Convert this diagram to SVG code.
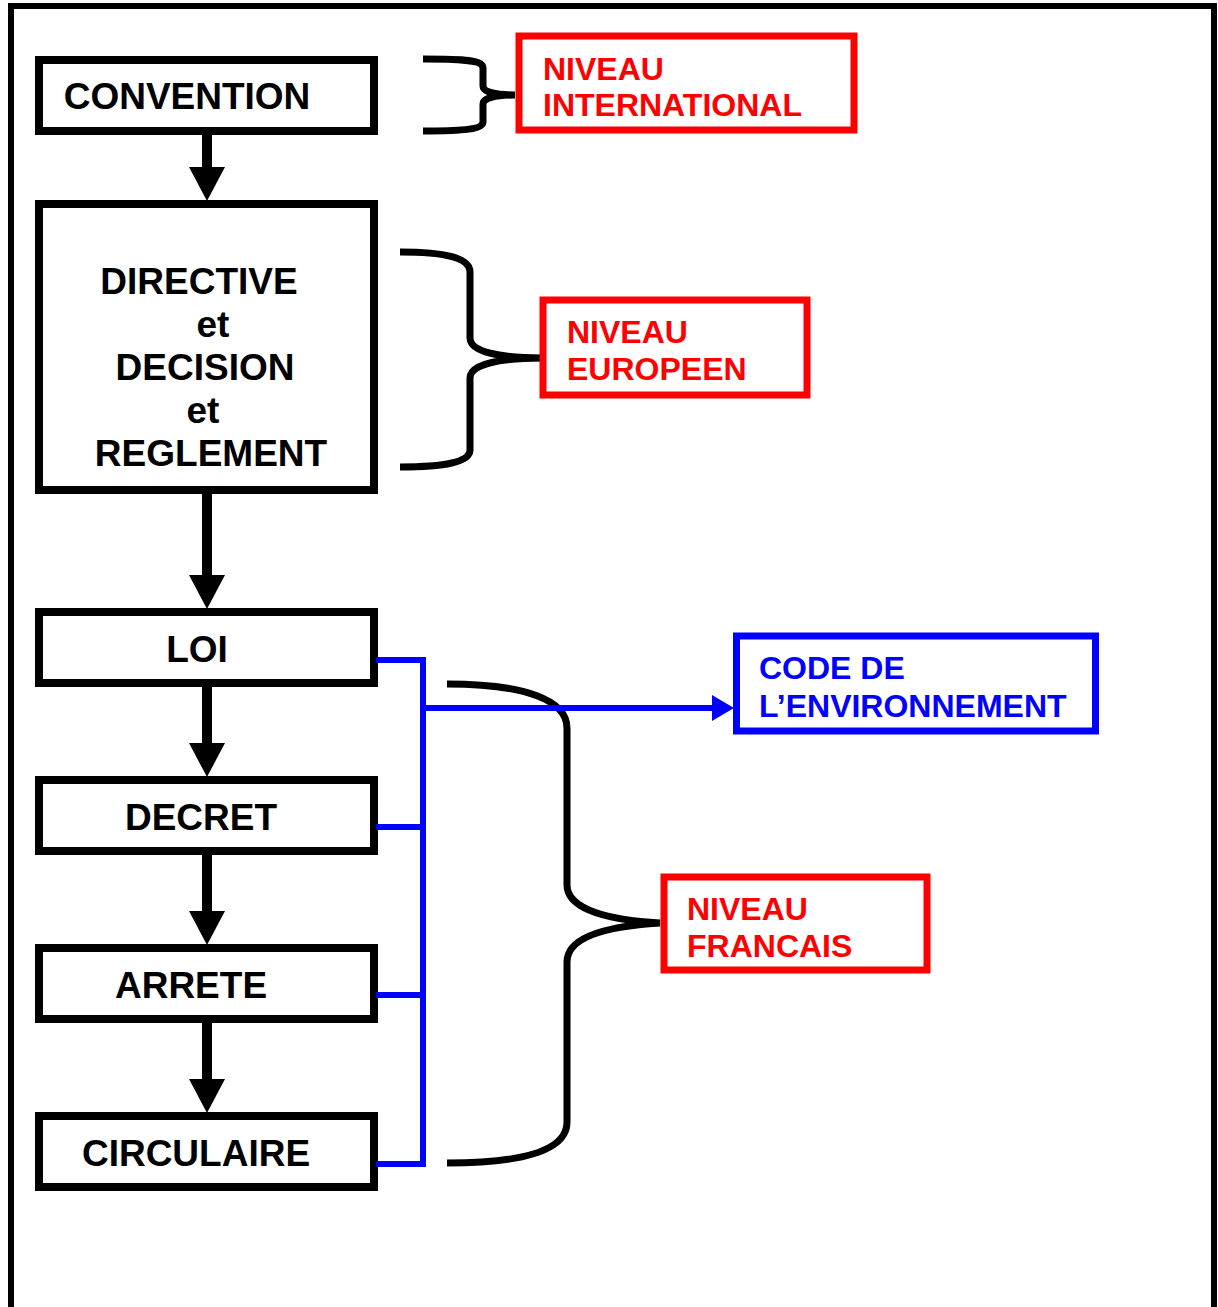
<svg xmlns="http://www.w3.org/2000/svg" width="1218" height="1307" viewBox="0 0 1218 1307">
<style>
.box{fill:#fff;stroke:#000;stroke-width:8}
.rbox{fill:#fff;stroke:#f00;stroke-width:7}
.bbox{fill:#fff;stroke:#00f;stroke-width:7}
.t{font-family:"Liberation Sans",Arial,sans-serif;font-weight:bold;font-size:37px;fill:#000}
.rt{font-family:"Liberation Sans",Arial,sans-serif;font-weight:bold;font-size:32px;fill:#f00}
.bt{font-family:"Liberation Sans",Arial,sans-serif;font-weight:bold;font-size:32px;fill:#00f}
.brace{fill:none;stroke:#000;stroke-width:7}
.shaft{stroke:#000;stroke-width:10}
.blue{fill:none;stroke:#00f;stroke-width:6}
</style>
<defs>
<marker id="bh" markerUnits="userSpaceOnUse" markerWidth="34" markerHeight="36" refX="0" refY="18" orient="auto">
<path d="M0,0 L34,18 L0,36 z" fill="#000"/>
</marker>
<marker id="uh" markerUnits="userSpaceOnUse" markerWidth="22" markerHeight="26" refX="0" refY="13" orient="auto">
<path d="M0,0 L22,13 L0,26 z" fill="#00f"/>
</marker>
</defs>
<rect width="1218" height="1307" fill="#fff"/>
<path d="M11,1307 L11,6 L1214,6 L1214,1307" fill="none" stroke="#000" stroke-width="6"/>

<g id="braces">
<path class="brace" d="M423,59 C465,59 483,60 483,68 L483,86 C483,92 495,95 515,95 C495,95 483,98 483,104 L483,122 C483,129 465,131 423,131"/>
<path class="brace" d="M400,252 C445,252 470,258 470,272 L470,338 C470,352 500,358 543,358 C500,358 470,364 470,378 L470,450 C470,462 445,467 400,467"/>
<path class="brace" d="M447,684 C525,684 567,700 567,728 L567,885 C567,910 610,920 660,923 C610,926 567,936 567,962 L567,1122 C567,1150 525,1163 447,1163"/>
</g>

<g id="convention"><rect class="box" x="39" y="60" width="335" height="71"/><text class="t" x="187" y="109" text-anchor="middle">CONVENTION</text></g>
<g id="directive"><rect class="box" x="39" y="204" width="335" height="286"/>
<text class="t" x="199" y="294" text-anchor="middle">DIRECTIVE</text>
<text class="t" x="213" y="337" text-anchor="middle">et</text>
<text class="t" x="205" y="380" text-anchor="middle">DECISION</text>
<text class="t" x="203" y="423" text-anchor="middle">et</text>
<text class="t" x="211" y="466" text-anchor="middle">REGLEMENT</text></g>
<g id="loi"><rect class="box" x="39" y="612" width="335" height="71"/><text class="t" x="197" y="662" text-anchor="middle">LOI</text></g>
<g id="decret"><rect class="box" x="39" y="780" width="335" height="71"/><text class="t" x="201" y="830" text-anchor="middle">DECRET</text></g>
<g id="arrete"><rect class="box" x="39" y="948" width="335" height="71"/><text class="t" x="191" y="998" text-anchor="middle">ARRETE</text></g>
<g id="circulaire"><rect class="box" x="39" y="1116" width="335" height="71"/><text class="t" x="196" y="1166" text-anchor="middle">CIRCULAIRE</text></g>

<g id="niveau-international"><rect class="rbox" x="519" y="36" width="335" height="94"/><text class="rt" x="543" y="80">NIVEAU</text><text class="rt" x="543" y="116">INTERNATIONAL</text></g>
<g id="niveau-europeen"><rect class="rbox" x="543" y="300" width="264" height="95"/><text class="rt" x="567" y="343">NIVEAU</text><text class="rt" x="567" y="380">EUROPEEN</text></g>
<g id="niveau-francais"><rect class="rbox" x="664" y="877" width="263" height="93"/><text class="rt" x="687" y="920">NIVEAU</text><text class="rt" x="687" y="957">FRANCAIS</text></g>
<g id="code-environnement"><rect class="bbox" x="736.5" y="636" width="359" height="95"/><text class="bt" x="759" y="679">CODE DE</text><text class="bt" x="759" y="717">L’ENVIRONNEMENT</text></g>

<g id="connectors">
<line class="shaft" x1="207" y1="135" x2="207" y2="167" marker-end="url(#bh)"/>
<line class="shaft" x1="207" y1="494" x2="207" y2="575" marker-end="url(#bh)"/>
<line class="shaft" x1="207" y1="687" x2="207" y2="743" marker-end="url(#bh)"/>
<line class="shaft" x1="207" y1="855" x2="207" y2="911" marker-end="url(#bh)"/>
<line class="shaft" x1="207" y1="1023" x2="207" y2="1079" marker-end="url(#bh)"/>
<path class="blue" d="M376,660 L423,660 L423,1164 L376,1164"/>
<path class="blue" d="M376,827 L423,827 M376,995 L423,995"/>
<line class="blue" x1="423" y1="708" x2="712" y2="708" marker-end="url(#uh)"/>
</g>
</svg>
